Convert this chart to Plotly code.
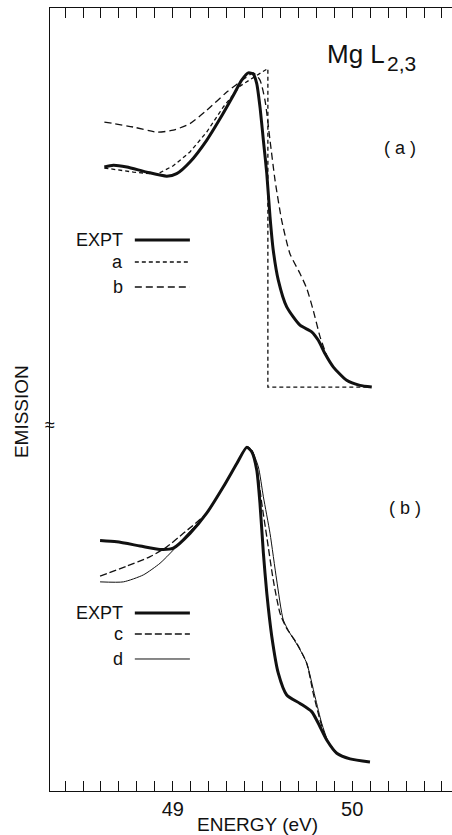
import plotly.graph_objects as go

# ---------------- data (energy in eV, emission normalised to peak = 1) -------------
# panel (a)
expt_a_x = [48.619, 48.669, 48.744, 48.855, 48.967, 49.022, 49.096, 49.189, 49.264, 49.338,
            49.384, 49.421, 49.449, 49.468, 49.486, 49.505, 49.524, 49.542, 49.560, 49.588,
            49.635, 49.709, 49.774, 49.811, 49.848, 49.895, 49.969, 50.043, 50.109]
expt_a_y = [0.699, 0.705, 0.699, 0.683, 0.670, 0.678, 0.715, 0.784, 0.853, 0.927,
            0.975, 0.998, 0.994, 0.964, 0.890, 0.784, 0.678, 0.541, 0.435, 0.340,
            0.255, 0.197, 0.176, 0.149, 0.107, 0.064, 0.022, 0.006, 0.001]

calc_a_x = [48.619, 48.781, 48.911, 49.003, 49.096, 49.189, 49.282, 49.375, 49.449, 49.530,
            49.530, 50.099]
calc_a_y = [0.696, 0.683, 0.676, 0.703, 0.747, 0.810, 0.890, 0.956, 0.983, 1.012,
            0.0, 0.0]

calc_b_x = [48.619, 48.781, 48.911, 49.003, 49.096, 49.189, 49.301, 49.412, 49.449, 49.486,
            49.514, 49.542, 49.570, 49.607, 49.653, 49.709, 49.747, 49.783, 49.821, 49.867]
calc_b_y = [0.842, 0.826, 0.810, 0.816, 0.837, 0.879, 0.937, 0.985, 0.998, 0.975,
            0.911, 0.784, 0.657, 0.530, 0.424, 0.361, 0.313, 0.244, 0.160, 0.086]

# panel (b)
expt_b_x = [48.595, 48.688, 48.818, 48.929, 49.003, 49.096, 49.189, 49.282, 49.357, 49.412,
            49.440, 49.468, 49.486, 49.505, 49.524, 49.552, 49.588, 49.635, 49.709, 49.774,
            49.811, 49.858, 49.914, 49.988, 50.099]
expt_b_y = [0.703, 0.699, 0.686, 0.675, 0.679, 0.726, 0.790, 0.874, 0.948, 0.999,
            0.985, 0.927, 0.821, 0.663, 0.536, 0.398, 0.282, 0.213, 0.186, 0.160,
            0.123, 0.070, 0.028, 0.010, 0.0]

calc_c_x = [48.595, 48.744, 48.874, 48.967, 49.059, 49.189, 49.282, 49.357, 49.412, 49.440,
            49.468, 49.496, 49.524, 49.560, 49.598, 49.635, 49.691, 49.747, 49.783, 49.821,
            49.858, 49.914]
calc_c_y = [0.590, 0.622, 0.652, 0.683, 0.726, 0.790, 0.874, 0.948, 1.001, 0.990,
            0.937, 0.821, 0.715, 0.578, 0.472, 0.424, 0.377, 0.313, 0.218, 0.133,
            0.070, 0.028]

calc_d_x = [48.595, 48.725, 48.836, 48.929, 49.003, 49.077, 49.189, 49.282, 49.357, 49.412,
            49.440, 49.477, 49.505, 49.542, 49.579, 49.616, 49.653, 49.700, 49.747, 49.793,
            49.830, 49.867, 49.914]
calc_d_y = [0.572, 0.572, 0.594, 0.631, 0.673, 0.721, 0.790, 0.874, 0.948, 1.001,
            0.990, 0.937, 0.842, 0.726, 0.578, 0.451, 0.409, 0.366, 0.313, 0.207,
            0.123, 0.064, 0.028]

major_ticks = [49, 50]
major_labels = ["49", "50"]
half_ticks = [48.5, 49.5, 50.5]

INK = "#111111"
FONT = "Liberation Sans"

fig = go.Figure()

def add(x, y, yaxis, width, dash, shape="spline"):
    fig.add_trace(go.Scatter(x=x, y=y, xaxis="x", yaxis=yaxis, mode="lines",
                             line=dict(color=INK, width=width, dash=dash, shape=shape,
                                       smoothing=0.6),
                             showlegend=False, hoverinfo="skip"))

# panel (a)
add(calc_b_x, calc_b_y, "y2", 1.3, "7px,4px")
add(calc_a_x, calc_a_y, "y2", 1.3, "4px,3px", shape="linear")
add(expt_a_x, expt_a_y, "y2", 3.0, "solid")
# panel (b)
add(calc_d_x, calc_d_y, "y", 1.0, "solid")
add(calc_c_x, calc_c_y, "y", 1.3, "7px,3px")
add(expt_b_x, expt_b_y, "y", 3.0, "solid")

# invisible trace to anchor the half-eV tick axis
fig.add_trace(go.Scatter(x=[49], y=[0], xaxis="x3", yaxis="y", mode="markers",
                         marker=dict(opacity=0), showlegend=False, hoverinfo="skip"))

X_RANGE = [48.316, 50.556]

fig.update_layout(
    width=452, height=835,
    margin=dict(l=50, r=0, t=8, b=44),
    paper_bgcolor="white", plot_bgcolor="white",
    font=dict(family=FONT, color=INK),
    xaxis=dict(range=X_RANGE, tickvals=major_ticks, ticktext=major_labels,
               ticks="inside", ticklen=10, tickwidth=1.2, tickcolor=INK,
               tickfont=dict(size=20, family=FONT, color=INK),
               minor=dict(dtick=0.1, tick0=48.0, ticks="inside", ticklen=4,
                          tickwidth=1, tickcolor=INK),
               showline=True, linecolor=INK, linewidth=1.3, mirror="allticks",
               showgrid=False, zeroline=False),
    xaxis3=dict(range=X_RANGE, overlaying="x", tickvals=half_ticks,
                ticks="inside", ticklen=7, tickwidth=1.1, tickcolor=INK,
                showticklabels=False, showline=False, mirror="allticks",
                showgrid=False, zeroline=False, side="bottom", anchor="y"),
    yaxis=dict(range=[-0.092, 2.394], showline=True, linecolor=INK, linewidth=1.3,
               ticks="", showticklabels=False, showgrid=False, zeroline=False),
    yaxis2=dict(range=[-1.282, 1.204], overlaying="y", visible=False),
)

ann = []
def text(x, y, s, size, xanchor="center", angle=0):
    ann.append(dict(x=x, y=y, xref="paper", yref="paper", text=s, showarrow=False,
                    xanchor=xanchor, yanchor="middle", textangle=angle,
                    font=dict(size=size, family=FONT, color=INK)))

text(0.684, 0.941, "Mg L", 26, xanchor="left")
text(0.834, 0.929, "2,3", 21, xanchor="left")
text(0.871, 0.821, "( a )", 18)
text(0.882, 0.361, "( b )", 18)
text(-0.072, 0.484, "EMISSION", 19, angle=-90)
text(0.517, -0.0434, "ENERGY (eV)", 19)
text(0.0, 0.4674, "≈", 18)

# legends
leg_a = [("EXPT", 0.7037, 3.0, "solid"), ("a", 0.6756, 1.3, "4px,3px"), ("b", 0.6437, 1.3, "7px,4px")]
leg_b = [("EXPT", 0.2273, 3.0, "solid"), ("c", 0.2005, 1.3, "7px,3px"), ("d", 0.1686, 1.0, "solid")]
shapes = []
for lab, yy, w, d in leg_a + leg_b:
    text(0.186, yy, lab, 18, xanchor="right")
    shapes.append(dict(type="line", xref="paper", yref="paper", x0=0.211, x1=0.348,
                       y0=yy, y1=yy, line=dict(color=INK, width=w, dash=d)))

fig.update_layout(annotations=ann, shapes=shapes)
fig.write_html("out.html")
